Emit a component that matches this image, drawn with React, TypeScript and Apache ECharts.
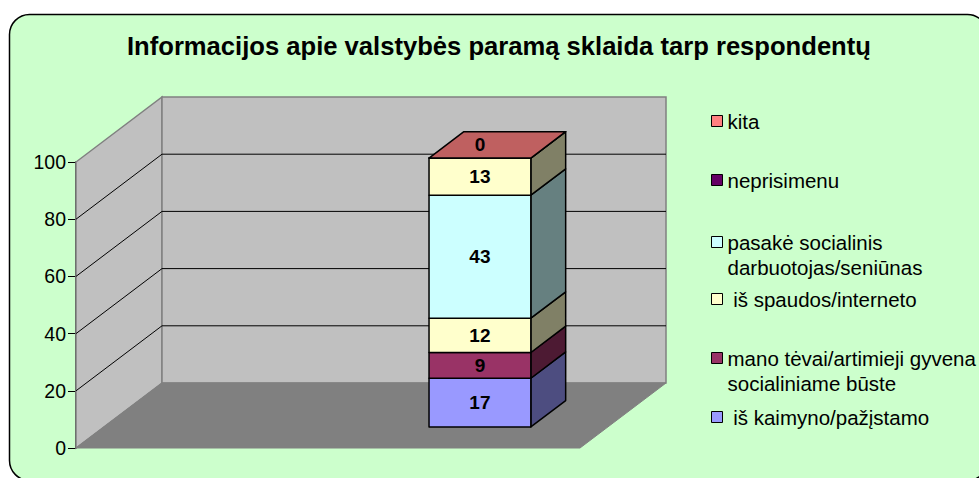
import React, { useEffect, useRef } from "react";
import * as echarts from "echarts";

const TITLE = "Informacijos apie valstybės paramą sklaida tarp respondentų";
const seriesNames = [
  " iš kaimyno/pažįstamo",
  "mano tėvai/artimieji gyvena socialiniame būste",
  " iš spaudos/interneto",
  "pasakė socialinis darbuotojas/seniūnas",
  "neprisimenu",
  "kita",
];
const legendLabels = [
  " iš kaimyno/pažįstamo",
  "mano tėvai/artimieji gyvena\nsocialiniame būste",
  " iš spaudos/interneto",
  "pasakė socialinis\ndarbuotojas/seniūnas",
  "neprisimenu",
  "kita",
];
const seriesValues = [17, 9, 12, 43, 13, 0];
const legendColors = ["#9999FF", "#993366", "#FFFFCC", "#CCFFFF", "#660066", "#FF8080"];
const faceColors = ["#9999FF", "#993366", "#FFFFCC", "#CCFFFF", "#FFFFCC", "#FF8080"];
const yTicks = [0, 20, 40, 60, 80, 100];

const FONT = "'Liberation Sans', Arial, Helvetica, sans-serif";

function shade(hex: string, f: number): string {
  const n = parseInt(hex.slice(1), 16);
  const r = Math.round(((n >> 16) & 255) * f);
  const g = Math.round(((n >> 8) & 255) * f);
  const b = Math.round((n & 255) * f);
  return "#" + [r, g, b].map((c) => c.toString(16).padStart(2, "0")).join("");
}

export default function App() {
  const ref = useRef<HTMLDivElement>(null);
  useEffect(() => {
    const chart = echarts.init(ref.current!, null, { renderer: "svg" });
    const yMin = yTicks[0];
    const yMax = yTicks[yTicks.length - 1];
    const DX = 86;
    const DY = -65;
    const BAR_X0 = 0.645;
    const BAR_X1 = 0.847;
    const BAR_FRONT = 0.325;
    const BAR_DEPTH = 0.405;

    const cum: number[] = [];
    let acc = 0;
    seriesValues.forEach((v) => {
      cum.push(acc);
      acc += v;
    });
    const lastIdx = seriesValues.length - 1;

    const wallSeries: any = {
      type: "custom",
      name: "walls",
      silent: true,
      z: 1,
      data: [[0, yMin]],
      renderItem: (_p: any, api: any) => {
        const p0 = api.coord([0, yMin]);
        const pT = api.coord([0, yMax]);
        const r0 = api.coord([1, yMin]);
        const rT = api.coord([1, yMax]);
        const b = (p: number[]) => [p[0] + DX, p[1] + DY];
        return {
          type: "group",
          children: [
            {
              type: "polygon",
              shape: { points: [p0, pT, b(pT), b(p0)] },
              style: { fill: "#C0C0C0", stroke: "#808080", lineWidth: 1.5 },
            },
            {
              type: "polygon",
              shape: { points: [b(pT), b(rT), b(r0), b(p0)] },
              style: { fill: "#C0C0C0", stroke: "#808080", lineWidth: 1.5 },
            },
            {
              type: "polygon",
              shape: { points: [p0, b(p0), b(r0), r0] },
              style: { fill: "#808080", stroke: "#808080", lineWidth: 1 },
            },
          ],
        };
      },
    };

    const gridSeries: any = {
      type: "custom",
      name: "gridlines",
      silent: true,
      z: 2,
      data: yTicks.filter((t) => t > yMin && t < yMax).map((t) => [0, t]),
      renderItem: (_p: any, api: any) => {
        const v = api.value(1);
        const p = api.coord([0, v]);
        const r = api.coord([1, v]);
        return {
          type: "polyline",
          shape: {
            points: [p, [p[0] + DX, p[1] + DY], [r[0] + DX, r[1] + DY]],
          },
          style: { stroke: "#000", lineWidth: 1, fill: null },
        };
      },
    };

    const barSeries: any[] = seriesNames.map((name, i) => ({
      type: "custom",
      name,
      z: 3,
      itemStyle: { color: legendColors[i] },
      data: [[0, seriesValues[i]]],
      renderItem: (_p: any, api: any) => {
        const v = api.value(1);
        const base = cum[i];
        const pb = api.coord([BAR_X0, base]);
        const pt = api.coord([BAR_X1, base + v]);
        const fx = DX * BAR_FRONT;
        const fy = DY * BAR_FRONT;
        const sx = DX * BAR_DEPTH;
        const sy = DY * BAR_DEPTH;
        const x0 = pb[0] + fx;
        const x1 = pt[0] + fx;
        const yb = pb[1] + fy;
        const yt = pt[1] + fy;
        const front = faceColors[i];
        const edge = { stroke: "#000", lineWidth: 1.5, lineJoin: "round" };
        const children: any[] = [
          {
            type: "polygon",
            shape: { points: [[x1, yb], [x1, yt], [x1 + sx, yt + sy], [x1 + sx, yb + sy]] },
            style: { fill: shade(front, 0.5), ...edge },
          },
          {
            type: "rect",
            shape: { x: x0, y: yt, width: x1 - x0, height: yb - yt },
            style: { fill: front, ...edge },
          },
        ];
        if (i === lastIdx) {
          children.push({
            type: "polygon",
            shape: { points: [[x0, yt], [x1, yt], [x1 + sx, yt + sy], [x0 + sx, yt + sy]] },
            style: { fill: shade(front, 0.75), ...edge },
          });
        }
        const cx = (x0 + x1) / 2;
        const cy = v > 0 ? (yt + yb) / 2 : yt + sy / 2;
        children.push({
          type: "text",
          x: cx,
          y: cy,
          style: {
            text: String(v),
            fill: "#000",
            fontSize: 19,
            fontWeight: "bold",
            fontFamily: FONT,
            align: "center",
            verticalAlign: "middle",
          },
        });
        return { type: "group", children };
      },
    }));

    const legendCenters = [417, 358, 299, 242, 180, 121];
    const LH = 25;
    const legends = seriesNames.map((name, i) => {
      const multi = legendLabels[i].includes("\n");
      return {
        data: [name],
        left: 711,
        top: multi ? legendCenters[i] - LH * 1.5 : legendCenters[i] - LH / 2,
        orient: "vertical",
        icon: "rect",
        itemWidth: 11,
        itemHeight: 11,
        selectedMode: false,
        padding: 0,
        itemStyle: { borderColor: "#000", borderWidth: 1 },
        formatter: () => (multi ? "\n" + legendLabels[i] : legendLabels[i]),
        textStyle: {
          fontSize: 20.5,
          fontFamily: FONT,
          color: "#000",
          lineHeight: LH,
        },
      };
    });

    chart.setOption({
      animation: false,
      title: {
        text: TITLE,
        left: 127,
        top: 33,
        padding: 0,
        textStyle: { fontSize: 25.6, fontWeight: "bold", fontFamily: FONT, color: "#000" },
      },
      graphic: [
        {
          type: "rect",
          z: -10,
          shape: { x: 9.5, y: 14.5, width: 978, height: 466, r: 20 },
          style: { fill: "#CCFFCC", stroke: "#000", lineWidth: 1.5 },
        },
      ],
      legend: legends,
      grid: { left: 76, top: 162, width: 504, height: 286, containLabel: false },
      xAxis: { type: "value", min: 0, max: 1, show: false },
      yAxis: {
        type: "value",
        min: yMin,
        max: yMax,
        interval: 20,
        axisLine: { show: true, lineStyle: { color: "#000", width: 1.5 } },
        axisTick: { show: true, length: 8, lineStyle: { color: "#000", width: 1 } },
        axisLabel: { fontSize: 19.5, color: "#000", fontFamily: FONT, margin: 10 },
        splitLine: { show: false },
      },
      series: [wallSeries, gridSeries, ...barSeries],
    });
    return () => chart.dispose();
  }, []);
  return (
    <div
      ref={ref}
      style={{ position: "fixed", left: 0, top: 0, width: 979, height: 478, background: "#fff" }}
    />
  );
}
